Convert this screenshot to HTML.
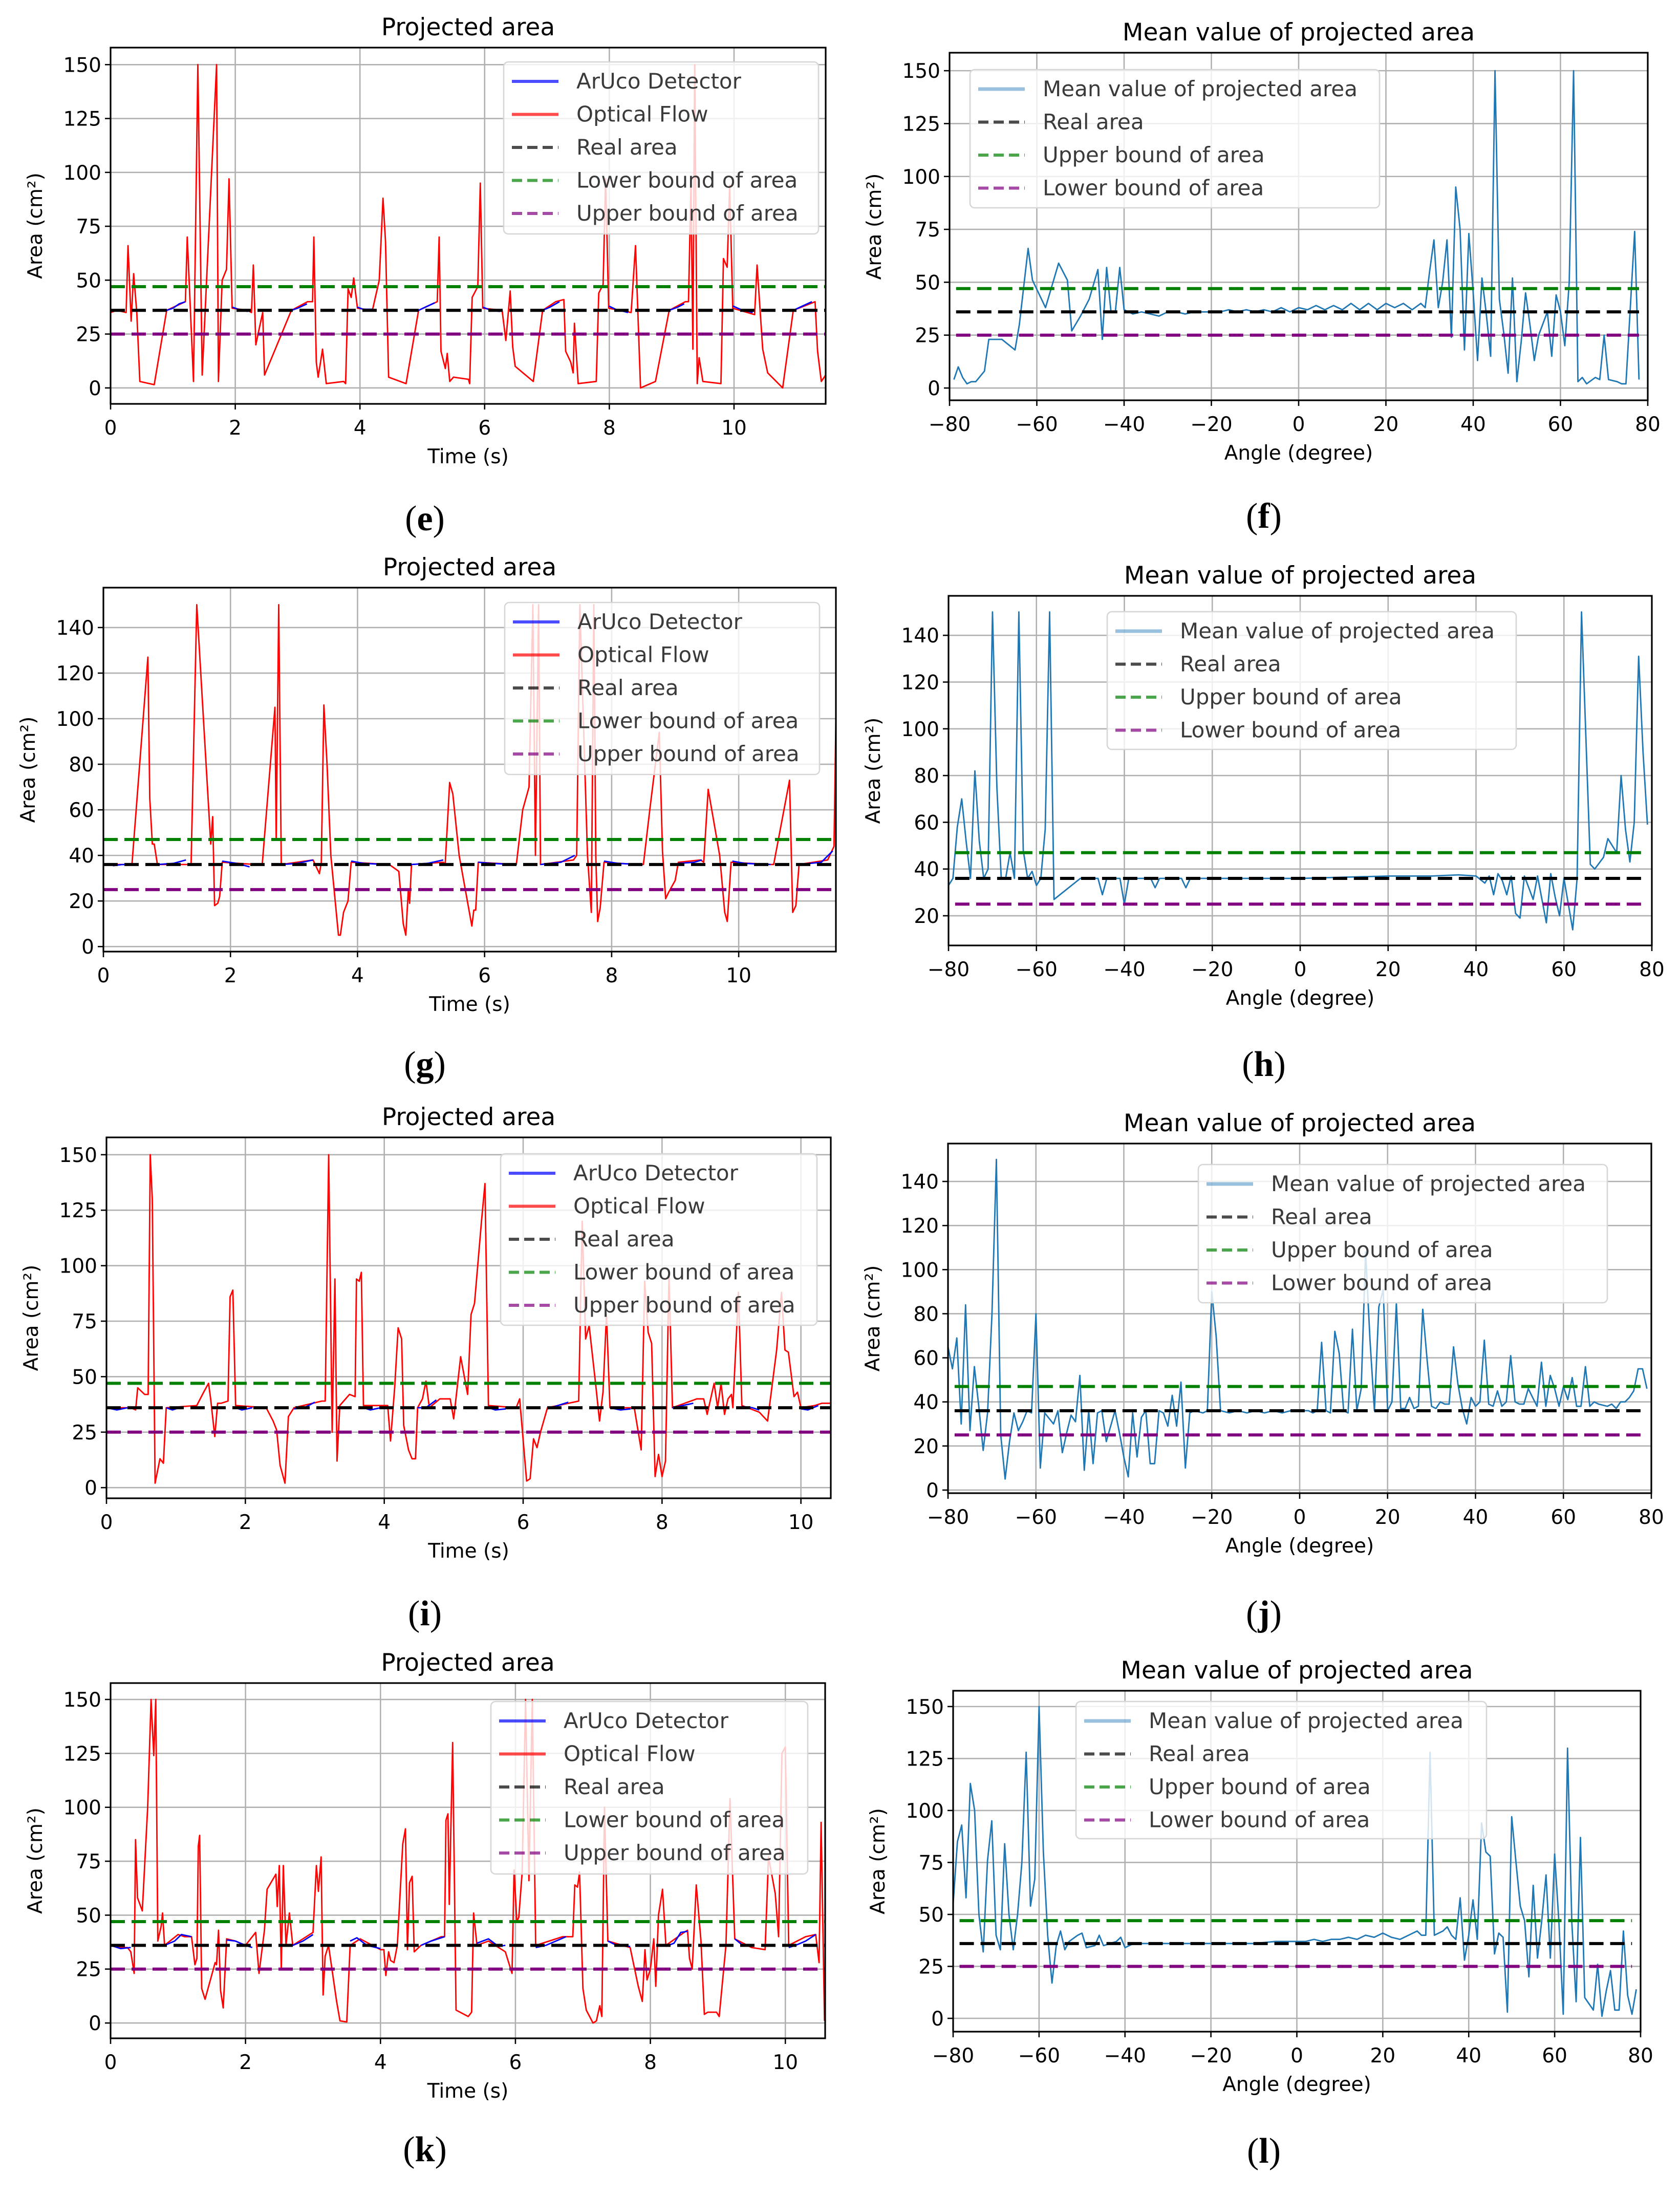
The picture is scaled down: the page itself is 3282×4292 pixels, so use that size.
<!DOCTYPE html>
<html><head><meta charset="utf-8">
<style>
html,body{margin:0;padding:0;background:#fff;}
svg{display:block;}
text{font-family:"DejaVu Sans","Liberation Sans",sans-serif;fill:#000;}
</style></head>
<body>
<svg id="fig" xmlns="http://www.w3.org/2000/svg" width="3282" height="4292" viewBox="0 0 3282 4292"></svg>
<script>
// ---------- reference levels ----------
const refLevels = [36, 47, 25]; // real, upper(green), lower(purple)

// ---------- (e) ----------
const eT   = [0,0.1,0.25,0.28,0.33,0.37,0.42,0.47,0.7,0.9,1.2,1.23,1.33,1.4,1.47,1.7,1.73,1.79,1.86,1.9,1.95,2.2,2.26,2.29,2.33,2.38,2.44,2.47,2.9,3.16,3.24,3.26,3.3,3.33,3.4,3.46,3.74,3.77,3.81,3.86,3.9,3.96,4.2,4.31,4.37,4.41,4.46,4.74,4.94,5.24,5.27,5.3,5.37,5.4,5.44,5.5,5.74,5.76,5.8,5.89,5.93,5.97,6.28,6.34,6.41,6.45,6.49,6.78,6.93,7.14,7.27,7.3,7.38,7.42,7.44,7.5,7.79,7.83,7.9,7.94,7.99,8.35,8.42,8.5,8.74,8.96,9.22,9.27,9.31,9.34,9.37,9.41,9.44,9.5,9.79,9.83,9.89,9.93,9.98,10.33,10.37,10.46,10.54,10.78,10.95,11.3,11.34,11.4,11.47];
const eRed = [35,36,35,66,31,53,35,3,1.5,36,40,70,3,150,6,150,3,50,55,97,37,36,35,57,20,27,35,6,36,40,40,70,12,5,18,2,3,2,46,42,51,37,36,50,88,68,5,2,36,40,70,17,9,16,3,5,4,2,42,47,95,37,36,22,45,19,10,3,36,40,41,17,12,7,30,2,3,44,48,97,37,35,66,0,3,36,40,40,95,18,150,2,14,3,2,60,56,94,37,34,57,18,7,0,36,40,17,3,6];
const eBlueT = [0.9,1.0,1.1,1.2,null,1.95,2.05,2.2,null,2.9,3.0,3.15,null,3.96,4.05,4.2,null,4.94,5.05,5.2,null,5.97,6.1,6.25,null,6.93,7.05,7.2,null,7.99,8.1,8.3,null,8.96,9.1,9.2,null,9.98,10.1,10.3,null,10.95,11.1,11.25];
const eBlueV = [36,37,39,40,null,37.5,36.5,35.5,null,36,37,39,null,37.5,36.5,36.5,null,36,37.5,39.5,null,37.5,36,35.5,null,36,37.5,40,null,38,36.5,35,null,36,37.5,39,null,38,36.5,35,null,36,38,40];

// ---------- (f) ----------
const fX = [-79,-78,-77,-76,-75,-74,-72,-71,-68,-65,-64,-62,-61,-58,-55,-53,-52,-50,-48,-46,-45,-44,-43,-42,-41,-40,-38,-36,-34,-32,-30,-28,-26,-24,-22,-20,-18,-16,-14,-12,-10,-8,-6,-4,-2,0,2,4,6,8,10,12,14,16,18,20,22,24,26,28,29,30,31,32,33,34,35,36,37,38,39,40,41,42,43,44,45,46,47,48,49,50,51,52,53,54,55,57,58,59,60,61,62,63,64,65,66,68,69,70,71,73,74,75,77,78];
const fY = [4,10,5,2,3,3,8,23,23,18,30,66,51,38,59,51,27,34,42,56,23,57,36,36,57,37,35,36,35,34,36,36,35,36,36,36,36,37,36,37,36,37,36,38,36,38,37,39,37,39,37,40,37,40,37,40,38,40,37,40,38,55,70,38,50,70,24,95,75,18,73,45,13,52,35,15,150,42,26,7,52,3,22,45,30,13,25,36,15,44,36,20,50,150,3,5,2,5,4,25,4,3,2,2,74,4];

// ---------- (g) ----------
const gT   = [0.15,0.45,0.7,0.73,0.77,0.8,0.85,1.33,1.38,1.47,1.69,1.72,1.75,1.8,1.83,1.87,2.4,2.5,2.7,2.72,2.76,2.8,3.3,3.4,3.43,3.47,3.52,3.58,3.7,3.73,3.78,3.85,3.9,4.5,4.65,4.72,4.76,4.8,4.82,4.85,5.35,5.38,5.45,5.5,5.6,5.8,5.83,5.86,5.9,6.5,6.6,6.7,6.76,6.8,6.85,6.88,7.4,7.45,7.5,7.62,7.68,7.72,7.75,7.78,7.82,7.88,8.4,8.5,8.6,8.75,8.8,8.85,8.9,9.0,9.05,9.4,9.45,9.52,9.7,9.78,9.82,9.88,10.5,10.55,10.8,10.85,10.9,10.95,11.4,11.5,11.53];
const gRed = [36,36,127,65,45,45,36,36,36,150,45,57,18,19,22,37,36,36,105,47,150,36,38,32,37,106,80,40,5,5,15,20,37,36,33,10,5,25,19,36,37,36,72,67,40,9,16,16,37,36,60,70,150,40,150,36,38,40,150,40,15,150,40,11,17,37,36,36,60,94,42,21,24,29,37,38,37,69,40,15,11,37,36,36,73,15,18,36,38,44,100];
const gBlueT = [0.15,0.3,0.45,null,0.85,1.1,1.3,null,1.87,2.1,2.3,null,2.8,3.05,3.3,null,3.9,4.1,4.45,null,4.85,5.1,5.35,null,5.9,6.1,6.5,null,6.88,7.2,7.42,null,7.88,8.1,8.45,null,9.05,9.3,9.42,null,9.9,10.1,10.5,null,10.95,11.3,11.48];
const gBlueV = [35.5,36,36,null,36,36.5,38,null,37.5,36.5,35,null,36,36.5,38,null,37.5,36.5,36,null,36,36.5,38,null,37,36.5,36,null,36,37,40,null,37.5,36.5,36,null,36.5,37,38,null,37.5,36.5,36,null,36,37,42];

// ---------- (h) ----------
const hX = [-80,-79,-78,-77,-76,-75,-74,-73,-72,-71,-70,-69,-68,-67,-66,-65,-64,-63,-62,-61,-60,-59,-58,-57,-56,-54,-52,-50,-46,-45,-44,-41,-40,-39,-34,-33,-32,-27,-26,-25,-20,-10,0,10,20,30,36,40,42,43,44,45,46,47,48,49,50,51,52,53,54,55,56,57,58,59,60,61,62,63,64,66,67,69,70,72,73,74,75,76,77,78,79];
const hY = [33,36,58,70,52,36,82,52,36,40,150,75,36,36,47,36,150,48,36,39,33,36,57,150,27,30,33,36,36,29,36,36,25,36,36,32,36,36,32,36,36,36,36,36.5,37,37,37.5,37,34,37,29,38,35,29,37,21,19,37,32,27,37,27,17,38,28,20,36,25,14,36,150,42,40,45,53,47,80,57,43,60,131,90,59];

// ---------- (i) ----------
const iT   = [0,0.35,0.42,0.45,0.55,0.6,0.63,0.66,0.7,0.77,0.82,0.86,1.3,1.4,1.47,1.5,1.56,1.6,1.65,1.75,1.78,1.82,1.86,2.3,2.4,2.45,2.5,2.57,2.62,2.7,3.1,3.15,3.2,3.25,3.29,3.32,3.36,3.5,3.58,3.6,3.64,3.67,3.7,4.0,4.05,4.09,4.15,4.2,4.25,4.28,4.35,4.4,4.45,4.48,4.55,4.6,4.65,4.8,4.95,5.0,5.05,5.1,5.2,5.25,5.3,5.4,5.45,5.5,5.9,5.95,6.05,6.1,6.15,6.2,6.25,6.35,6.8,6.85,6.9,6.95,7.05,7.1,7.15,7.2,7.25,7.6,7.7,7.75,7.8,7.85,7.9,7.95,8.0,8.05,8.1,8.15,8.5,8.6,8.65,8.75,8.8,8.85,8.9,8.95,9.0,9.02,9.1,9.15,9.4,9.52,9.65,9.72,9.77,9.82,9.9,9.95,10.0,10.2,10.3,10.43];
const iRed = [36,36,35,45,42,42,150,130,2,13,11,36,37,43,47,40,23,38,38,39,86,89,37,36,30,26,10,2,32,36,39,39,150,25,94,12,37,42,41,94,93,97,37,37,37,21,45,72,67,28,17,13,13,36,40,48,36,40,40,31,45,59,42,78,83,120,137,37,36,40,3,4,22,18,25,36,39,120,67,73,45,30,43,78,36,36,17,93,70,65,5,15,5,12,96,36,40,40,33,47,36,47,33,40,42,36,88,37,34,30,62,88,62,61,41,43,36,37,38,38];
const iBlueT = [0,0.15,0.3,null,0.86,0.95,1.05,null,1.86,1.95,2.1,null,2.7,2.85,3.0,null,3.7,3.8,3.95,null,4.48,4.6,4.75,null,5.5,5.6,5.75,null,6.35,6.5,6.65,null,7.25,7.4,7.55,null,8.15,8.3,8.45,null,9.15,9.3,9.4,null,10.0,10.1,10.25];
const iBlueV = [36,35,36,null,36,35,36,null,36,35,36,null,35.5,36,38.5,null,36,35,36,null,36,36,39.5,null,36,35,35.5,null,35.5,37,38.5,null,36,35,35.5,null,36,37,38,null,36.5,36,35,null,35.5,35,37];

// ---------- (j) ----------
const jX = [-80,-79,-78,-77,-76,-75,-74,-73,-72,-71,-70,-69,-68,-67,-66,-65,-64,-63,-62,-61,-60,-59,-58,-56,-55,-54,-53,-52,-51,-50,-49,-48,-47,-46,-45,-44,-43,-42,-41,-40,-39,-38,-37,-36,-35,-34,-33,-32,-31,-30,-29,-28,-27,-26,-25,-24,-22,-21,-20,-19,-18,-16,-14,-12,-10,-8,-6,-4,-2,0,2,3,4,5,6,7,8,9,10,11,12,13,14,15,16,17,18,19,20,21,22,23,24,25,26,27,28,29,30,31,32,33,34,35,36,37,38,39,40,41,42,43,44,45,46,47,48,49,50,51,52,53,54,55,56,57,58,59,60,61,62,63,64,65,66,67,68,70,71,72,73,74,75,76,77,78,79];
const jY = [65,55,69,30,84,27,56,38,18,35,80,150,25,5,22,35,27,31,36,35,80,10,35,30,36,17,26,34,31,52,9,36,12,35,36,22,29,36,26,15,6,35,15,33,36,12,12,36,35,29,43,29,49,10,35,36,35,36,90,70,36,35,36,35,36,35,36,35,36,36,36,35,36,67,36,35,72,62,36,35,73,36,46,108,68,36,83,91,36,40,85,37,37,42,37,38,82,59,38,37,40,39,39,65,48,37,30,42,38,40,68,39,38,45,38,40,61,40,39,39,46,42,38,58,38,52,46,38,47,41,51,38,38,56,38,40,39,38,39,37,40,40,42,45,55,55,46];

// ---------- (k) ----------
const kT   = [0,0.15,0.25,0.3,0.35,0.37,0.4,0.47,0.55,0.6,0.64,0.67,0.7,0.75,0.77,0.8,1.0,1.1,1.2,1.25,1.28,1.3,1.32,1.35,1.4,1.55,1.57,1.6,1.63,1.67,1.72,1.85,2.0,2.15,2.2,2.28,2.32,2.45,2.47,2.5,2.53,2.56,2.6,2.65,2.7,2.9,3.0,3.05,3.08,3.12,3.15,3.18,3.23,3.35,3.4,3.5,3.55,3.7,4.0,4.05,4.08,4.12,4.15,4.2,4.25,4.33,4.37,4.4,4.43,4.47,4.5,4.6,4.9,4.95,4.97,5.0,5.02,5.07,5.12,5.3,5.35,5.38,5.43,5.6,5.75,5.85,5.95,5.98,6.02,6.05,6.1,6.15,6.2,6.25,6.3,6.7,6.75,6.85,6.88,6.92,6.95,7.0,7.05,7.15,7.2,7.25,7.28,7.32,7.37,7.7,7.82,7.88,7.92,7.95,8.0,8.05,8.08,8.12,8.18,8.23,8.5,8.55,8.58,8.62,8.68,8.75,8.8,8.85,8.98,9.02,9.12,9.18,9.25,9.5,9.7,9.75,9.85,9.9,9.95,10.0,10.05,10.3,10.45,10.5,10.53,10.58];
const kRed = [36,35,35,33,23,85,58,52,100,150,124,150,38,45,51,36,41,40,40,27,30,82,87,16,11,28,27,43,15,7,39,38,36,42,23,43,62,69,54,73,25,73,36,51,36,40,42,73,61,77,13,31,36,10,1,0.5,36,39,34,34,22,33,29,28,36,83,90,34,65,68,33,36,40,40,94,97,55,130,6,3,5,51,36,38,35,33,23,71,47,49,70,150,66,150,36,40,40,40,64,63,70,16,6,0,1,8,3,100,38,35,17,10,34,20,25,39,17,50,62,36,42,43,30,25,64,38,4,5,5,3,36,104,39,35,34,77,60,40,125,128,36,40,41,28,93,1];
const kBlueT = [0,0.15,0.3,null,0.8,0.95,1.05,1.2,null,1.72,1.85,2.0,2.1,null,2.7,2.85,3.0,null,3.55,3.65,3.8,4.0,null,4.6,4.75,4.95,null,5.43,5.6,5.75,5.85,null,6.3,6.45,6.6,6.75,null,7.37,7.5,7.7,null,8.23,8.35,8.45,8.55,null,9.25,9.35,9.5,null,10.05,10.15,10.3,10.45];
const kBlueV = [36,34.5,35,null,36,38,41,40,null,38.5,38,36,35,null,36,38,41,null,38,39.5,36,34.5,null,36,38,40,null,37,39,35.5,36,null,35,36,38,40,null,38,36,35.5,null,35.5,37,42,42.5,null,39,36.5,35.5,null,35,36,38,41];

// ---------- (l) ----------
const lX = [-80,-79,-78,-77,-76,-75,-74,-73,-72,-71,-70,-69,-68,-67,-66,-65,-64,-63,-62,-61,-60,-59,-58,-57,-56,-55,-54,-53,-51,-50,-49,-47,-46,-45,-42,-41,-40,-38,-30,-20,-10,-5,0,2,4,6,8,10,12,14,16,18,20,22,24,26,28,29,30,31,32,34,35,36,37,38,39,40,41,42,43,44,45,46,47,48,49,50,51,52,53,54,55,56,57,58,59,60,61,62,63,64,65,66,67,69,70,71,72,73,74,75,76,77,78,79];
const lY = [55,85,93,58,113,100,50,32,76,95,40,33,84,50,33,50,75,128,54,67,150,80,40,17,35,42,33,37,40,41,34,35,40,35,37,39,34,36,36,36,36,37,37,37,38,37,38,38,39,38,40,39,41,39,38,40,42,40,40,128,40,42,44,40,38,58,28,40,57,38,94,80,78,31,41,39,3,97,75,54,47,20,64,29,47,69,29,79,46,2,130,46,8,87,10,4,26,1,13,23,4,4,42,11,2,14];

// ---------- panels (layout only) ----------
const panels = [
 {id:'e',type:'time',L:216,R:1613,T:93,B:789,xmin:0,xmax:11.47,ymin:-7.4,ymax:157.9,xt:[0,2,4,6,8,10],yt:[0,25,50,75,100,125,150],cap:'e',capX:830,capY:1012,leg:[984,121,615,336],t:eT,r:eRed,bt:eBlueT,bv:eBlueV},
 {id:'f',type:'angle',L:1855,R:3219,T:103,B:782,xmin:-80,xmax:80,ymin:-5.8,ymax:158.5,xt:[-80,-60,-40,-20,0,20,40,60,80],yt:[0,25,50,75,100,125,150],cap:'f',capX:2469,capY:1007,leg:[1895,136,800,270],x:fX,y:fY},
 {id:'g',type:'time',L:202,R:1633,T:1148,B:1859,xmin:0,xmax:11.53,ymin:-2.2,ymax:157.5,xt:[0,2,4,6,8,10],yt:[0,20,40,60,80,100,120,140],cap:'g',capX:830,capY:2078,leg:[986,1177,615,336],t:gT,r:gRed,bt:gBlueT,bv:gBlueV},
 {id:'h',type:'angle',L:1853,R:3227,T:1164,B:1847,xmin:-80,xmax:80,ymin:7.3,ymax:156.9,xt:[-80,-60,-40,-20,0,20,40,60,80],yt:[20,40,60,80,100,120,140],cap:'h',capX:2469,capY:2078,leg:[2163,1195,799,269],x:hX,y:hY},
 {id:'i',type:'time',L:208,R:1623,T:2222,B:2927,xmin:0,xmax:10.43,ymin:-4.8,ymax:157.8,xt:[0,2,4,6,8,10],yt:[0,25,50,75,100,125,150],cap:'i',capX:830,capY:3151,leg:[978,2254,618,335],t:iT,r:iRed,bt:iBlueT,bv:iBlueV},
 {id:'j',type:'angle',L:1852,R:3226,T:2234,B:2917,xmin:-80,xmax:80,ymin:-1.4,ymax:157.2,xt:[-80,-60,-40,-20,0,20,40,60,80],yt:[0,20,40,60,80,100,120,140],cap:'j',capX:2469,capY:3151,leg:[2341,2275,799,270],x:jX,y:jY},
 {id:'k',type:'time',L:216,R:1612,T:3288,B:3982,xmin:0,xmax:10.59,ymin:-7.1,ymax:157.6,xt:[0,2,4,6,8,10],yt:[0,25,50,75,100,125,150],cap:'k',capX:830,capY:4198,leg:[959,3324,619,337],t:kT,r:kRed,bt:kBlueT,bv:kBlueV},
 {id:'l',type:'angle',L:1862,R:3205,T:3303,B:3969,xmin:-80,xmax:80,ymin:-6.4,ymax:157.6,xt:[-80,-60,-40,-20,0,20,40,60,80],yt:[0,25,50,75,100,125,150],cap:'l',capX:2469,capY:4201,leg:[2102,3324,802,268],x:lX,y:lY}
];

const NS='http://www.w3.org/2000/svg';
const svg=document.getElementById('fig');
function mk(tag,attrs,parent){const el=document.createElementNS(NS,tag);for(const k in attrs)el.setAttribute(k,attrs[k]);(parent||svg).appendChild(el);return el;}
function pathFrom(xs,ys,sx,sy){let d='',pen=false;for(let n=0;n<xs.length;n++){if(xs[n]===null||ys[n]===null){pen=false;continue;}d+=(pen?'L':'M')+sx(xs[n]).toFixed(1)+' '+sy(ys[n]).toFixed(1)+' ';pen=true;}return d;}
const fmt=v=>v<0?'\u2212'+Math.abs(v):String(v);

panels.forEach(p=>{
  const g=mk('g',{});
  
  
  const sx=v=>p.L+(v-p.xmin)/(p.xmax-p.xmin)*(p.R-p.L);
  const sy=v=>p.B-(v-p.ymin)/(p.ymax-p.ymin)*(p.B-p.T);
  const cid='clip-'+p.id;
  const cp=mk('clipPath',{id:cid},g);
  mk('rect',{x:p.L,y:p.T,width:p.R-p.L,height:p.B-p.T},cp);
  const grid=mk('g',{stroke:'#b0b0b0','stroke-width':2.6},g);
  
  
  p.xt.forEach(v=>mk('line',{x1:sx(v),x2:sx(v),y1:p.T,y2:p.B},grid));
  p.yt.forEach(v=>mk('line',{x1:p.L,x2:p.R,y1:sy(v),y2:sy(v)},grid));
  const dg=mk('g',{'clip-path':'url(#'+cid+')',fill:'none'},g);
  if(p.type==='time'){
    const red=mk('path',{d:pathFrom(p.t,p.r,sx,sy),stroke:'#ff0000','stroke-width':2.8,'stroke-linejoin':'round'},dg);
    
    
    const blue=mk('path',{d:pathFrom(p.bt,p.bv,sx,sy),stroke:'#0000ff','stroke-width':2.8},dg);
    
    
  } else {
    const ln=mk('path',{d:pathFrom(p.x,p.y,sx,sy),stroke:'#1f77b4','stroke-width':2.8,'stroke-linejoin':'round'},dg);
    
    
  }
  const refCols=['#000000','#008000','#800080'];
  const refNames=['real-area-line','upper-bound-line','lower-bound-line'];
  const x0=p.type==='time'?p.L:sx(p.xmin+1.5), x1=p.type==='time'?p.R:sx(78);
  refLevels.forEach((v,n)=>{
    const l=mk('line',{x1:x0,x2:x1,y1:sy(v),y2:sy(v),stroke:refCols[n],'stroke-width':6,'stroke-dasharray':'28 13'},dg);
    
    
  });
  const sp=mk('rect',{x:p.L,y:p.T,width:p.R-p.L,height:p.B-p.T,fill:'none',stroke:'#000','stroke-width':3.2},g);
  
  
  p.xt.forEach(v=>{
    mk('line',{x1:sx(v),x2:sx(v),y1:p.B,y2:p.B+11,stroke:'#000','stroke-width':2.6},g);
    const t=mk('text',{x:sx(v),y:p.B+60,'text-anchor':'middle','font-size':39},g);
    t.textContent=fmt(v);
    
    
  });
  p.yt.forEach(v=>{
    mk('line',{x1:p.L-11,x2:p.L,y1:sy(v),y2:sy(v),stroke:'#000','stroke-width':2.6},g);
    const t=mk('text',{x:p.L-18,y:sy(v)+14,'text-anchor':'end','font-size':39},g);
    t.textContent=fmt(v);
    
    
  });
  const ti=mk('text',{x:(p.L+p.R)/2,y:p.T-24,'text-anchor':'middle','font-size':47},g);
  ti.textContent=p.type==='time'?'Projected area':'Mean value of projected area';
  
  
  const xl=mk('text',{x:(p.L+p.R)/2,y:p.B+116,'text-anchor':'middle','font-size':39},g);
  xl.textContent=p.type==='time'?'Time (s)':'Angle (degree)';
  
  
  const yc=(p.T+p.B)/2, yx=p.L-148;
  const yl=mk('text',{x:yx,y:yc,'text-anchor':'middle','font-size':39,transform:'rotate(-90 '+yx+' '+yc+')',dy:14},g);
  yl.textContent='Area (cm\u00b2)';
  
  
  const cap=mk('text',{x:p.capX,y:p.capY+24,'text-anchor':'middle','font-size':70,style:'font-family:"Liberation Serif",serif'},g);
  
  
  const s1=mk('tspan',{},cap); s1.textContent='(';
  const s2=mk('tspan',{'font-weight':'bold'},cap); s2.textContent=p.cap;
  const s3=mk('tspan',{},cap); s3.textContent=')';
  const [lx,ly,lw,lh]=p.leg;
  const lg=mk('g',{},g);
  
  
  mk('rect',{x:lx,y:ly,width:lw,height:lh,rx:9,fill:'rgba(255,255,255,0.8)',stroke:'#d6d6d6','stroke-width':2.6},lg);
  const entries=p.type==='time'
    ?[['ArUco Detector','#0000ff',null],['Optical Flow','#ff0000',null],['Real area','#000000','28 13'],['Lower bound of area','#008000','28 13'],['Upper bound of area','#800080','28 13']]
    :[['Mean value of projected area','#1f77b4',null],['Real area','#000000','28 13'],['Upper bound of area','#008000','28 13'],['Lower bound of area','#800080','28 13']];
  entries.forEach((e,n)=>{
    const cy=ly+38+n*64.5;
    const eg=mk('g',{},lg);
    
    
    const la={x1:lx+16,x2:lx+107,y1:cy,y2:cy,stroke:e[1],'stroke-width':6,opacity:0.7};
    if(e[2])la['stroke-dasharray']='20 10';
    if(p.type==='angle'&&n===0){la.opacity=0.45;la['stroke-width']=7;}
    mk('line',la,eg);
    const tx=mk('text',{x:lx+142,y:cy+14,'font-size':42,style:'fill:#3a3a3a'},eg);
    tx.textContent=e[0];
  });
});
</script>
</body></html>
